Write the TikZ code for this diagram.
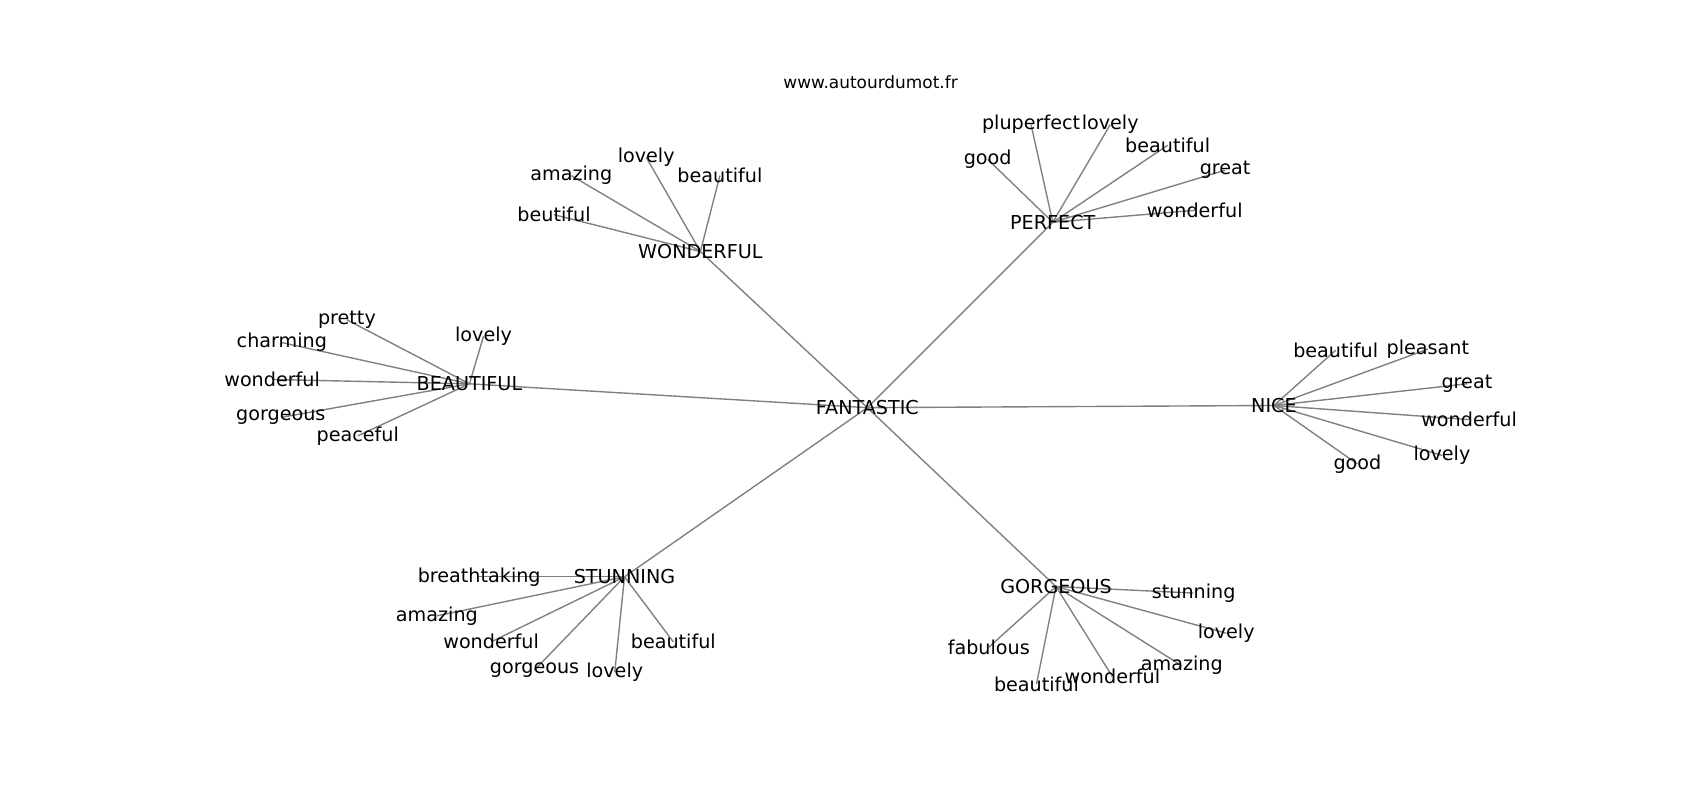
\documentclass[tikz,border=0pt]{standalone}
\usepackage{fontspec}
\setmainfont{DejaVu Sans}
\usetikzlibrary{backgrounds}

\begin{document}
\begin{tikzpicture}
  [x=0.7806pt,y=-0.7806pt,every node/.style={inner sep=0pt,font=\fontsize{13.8}{16}\selectfont}]
  \useasboundingbox (0,0) rectangle (1568,738);
  \node[font=\fontsize{12.2}{14}\selectfont] (title) at (803,76) {www.autourdumot.fr};

  \node (fa) at (800,376) {FANTASTIC};
  \node (wo) at (646,232) {WONDERFUL};
  \node (pe) at (971,205) {PERFECT};
  \node (be) at (433,354) {BEAUTIFUL};
  \node (ni) at (1175,374) {NICE};
  \node (st) at (576,532) {STUNNING};
  \node (go) at (974,541) {GORGEOUS};

  \node (wo1) at (527,162) {amazing};
  \node (wo2) at (596,145) {lovely};
  \node (wo3) at (664,162) {beautiful};
  \node (wo4) at (511,198) {beutiful};

  \node (pe1) at (951,115) {pluperfect};
  \node (pe2) at (1024,115) {lovely};
  \node (pe3) at (911,147) {good};
  \node (pe4) at (1077,134) {beautiful};
  \node (pe5) at (1130,157) {great};
  \node (pe6) at (1102,194) {wonderful};

  \node (be1) at (320,295) {pretty};
  \node (be2) at (260,316) {charming};
  \node (be3) at (446,310) {lovely};
  \node (be4) at (251,350) {wonderful};
  \node (be5) at (259,385) {gorgeous};
  \node (be6) at (330,402) {peaceful};

  \node (ni1) at (1232,323) {beautiful};
  \node (ni2) at (1317,322) {pleasant};
  \node (ni3) at (1353,354) {great};
  \node (ni4) at (1355,387) {wonderful};
  \node (ni5) at (1330,420) {lovely};
  \node (ni6) at (1252,428) {good};

  \node (st1) at (442,532) {breathtaking};
  \node (st2) at (403,568) {amazing};
  \node (st3) at (453,592) {wonderful};
  \node (st4) at (493,618) {gorgeous};
  \node (st5) at (567,620) {lovely};
  \node (st6) at (621,592) {beautiful};

  \node (go1) at (1101,547) {stunning};
  \node (go2) at (1131,584) {lovely};
  \node (go3) at (1090,614) {amazing};
  \node (go4) at (1026,624) {wonderful};
  \node (go5) at (956,631) {beautiful};
  \node (go6) at (912,597) {fabulous};

  \begin{pgfonlayer}{background}
  \foreach \from/\to in {fa/wo,fa/pe,fa/be,fa/ni,fa/st,fa/go,
      wo/wo1,wo/wo2,wo/wo3,wo/wo4,
      pe/pe1,pe/pe2,pe/pe3,pe/pe4,pe/pe5,pe/pe6,
      be/be1,be/be2,be/be3,be/be4,be/be5,be/be6,
      ni/ni1,ni/ni2,ni/ni3,ni/ni4,ni/ni5,ni/ni6,
      st/st1,st/st2,st/st3,st/st4,st/st5,st/st6,
      go/go1,go/go2,go/go3,go/go4,go/go5,go/go6}
    \draw[black!50,line width=1pt] (\from.center) -- (\to.center);
  \end{pgfonlayer}
\end{tikzpicture}
\end{document}
